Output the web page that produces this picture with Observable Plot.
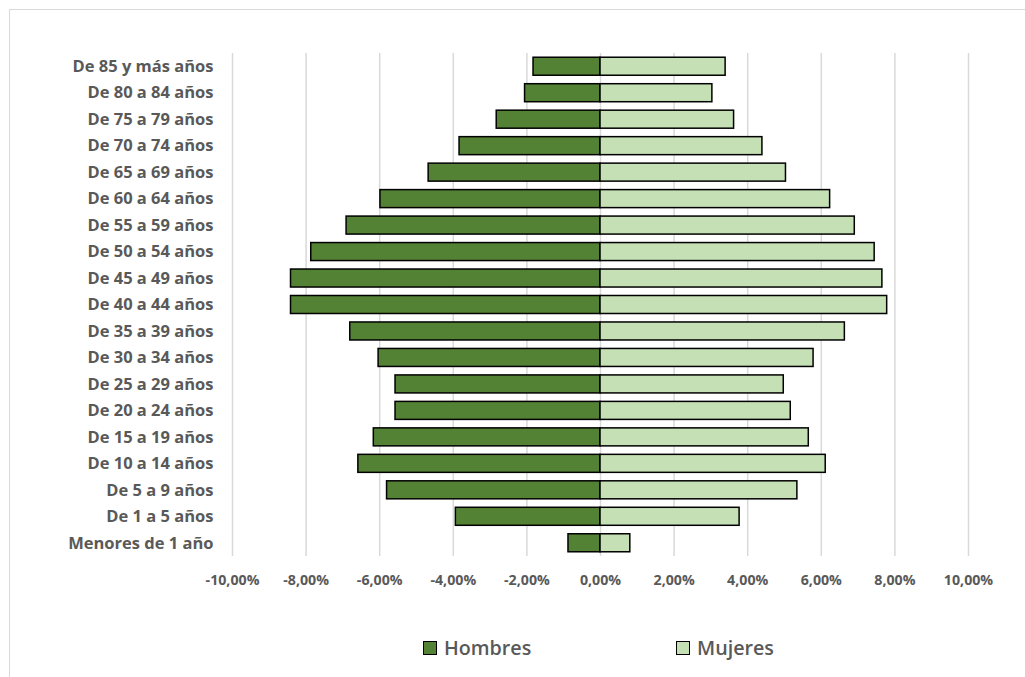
<!DOCTYPE html>
<html>
<head>
<meta charset="utf-8">
<script src="https://cdn.jsdelivr.net/npm/d3@7"></script>
<script src="https://cdn.jsdelivr.net/npm/@observablehq/plot@0.6"></script>
<style>
  html, body { margin: 0; padding: 0; background: #fff; }
  body { width: 1025px; height: 677px; overflow: hidden; position: relative; font-family: "Open Sans", Lato, sans-serif; }
  #frame { position: absolute; left: 9px; top: 9px; width: 1100px; height: 800px; border: 1px solid #d9d9d9; pointer-events: none; }
  #chart svg { display: block; }
  #legend { position: relative; height: 57px; color: #595959; font-size: 19.7px; font-weight: 600; }
  .item { position: absolute; top: 14px; display: flex; align-items: center; }
  .sw { width: 14px; height: 14px; box-sizing: border-box; border: 1.5px solid #000; margin-right: 7px; }
</style>
</head>
<body>
<div id="frame"></div>
<div id="chart"></div>
<script>
const categories = [
  "De 85 y más años", "De 80 a 84 años", "De 75 a 79 años", "De 70 a 74 años",
  "De 65 a 69 años", "De 60 a 64 años", "De 55 a 59 años", "De 50 a 54 años",
  "De 45 a 49 años", "De 40 a 44 años", "De 35 a 39 años", "De 30 a 34 años",
  "De 25 a 29 años", "De 20 a 24 años", "De 15 a 19 años", "De 10 a 14 años",
  "De 5 a 9 años", "De 1 a 5 años", "Menores de 1 año"
];
const hombres = [-1.82, -2.05, -2.82, -3.83, -4.67, -5.98, -6.90, -7.86, -8.41, -8.41,
                 -6.80, -6.03, -5.57, -5.57, -6.16, -6.58, -5.80, -3.93, -0.87];
const mujeres = [3.40, 3.04, 3.63, 4.40, 5.04, 6.24, 6.91, 7.45, 7.66, 7.79,
                 6.64, 5.79, 4.98, 5.17, 5.66, 6.12, 5.35, 3.78, 0.81];
const series = ["Hombres", "Mujeres"];
const colors = ["#548235", "#c5e0b4"];
const xTicks = [-10, -8, -6, -4, -2, 0, 2, 4, 6, 8, 10];

const data = categories.flatMap((c, i) => [
  {grupo: c, sexo: series[0], valor: hombres[i]},
  {grupo: c, sexo: series[1], valor: mujeres[i]}
]);

const fmt = d => d.toFixed(2).replace(".", ",") + "%";

const chart = Plot.plot({
  width: 1025,
  height: 620,
  marginLeft: 232,
  marginRight: 57,
  marginTop: 53,
  marginBottom: 64,
  style: {fontFamily: "'Open Sans', Lato, sans-serif", color: "#595959", background: "transparent"},
  x: {domain: [-10, 10], label: null},
  y: {domain: categories, paddingInner: 0.32, paddingOuter: 0.16, round: false, label: null},
  color: {domain: series, range: colors},
  marks: [
    Plot.gridX(xTicks, {stroke: "#d9d9d9", strokeOpacity: 1, strokeWidth: 1.5}),
    Plot.barX(data, {x: "valor", y: "grupo", fill: "sexo", stroke: "#000", strokeWidth: 1.5}),
    Plot.axisX({ticks: xTicks, tickFormat: fmt, tickSize: 0, tickPadding: 18, fontSize: 14.2, fontWeight: "bold", label: null}),
    Plot.axisY({tickSize: 0, tickPadding: 19, fontSize: 16.5, fontWeight: "bold", label: null})
  ]
});
document.getElementById("chart").appendChild(chart);

const legend = document.createElement("div");
legend.id = "legend";
const lefts = [423, 676];
series.forEach((s, i) => {
  const it = document.createElement("div");
  it.className = "item";
  it.style.left = lefts[i] + "px";
  const sw = document.createElement("span");
  sw.className = "sw";
  sw.style.background = colors[i];
  const tx = document.createElement("span");
  tx.textContent = s;
  it.appendChild(sw);
  it.appendChild(tx);
  legend.appendChild(it);
});
document.getElementById("chart").appendChild(legend);
</script>
</body>
</html>
